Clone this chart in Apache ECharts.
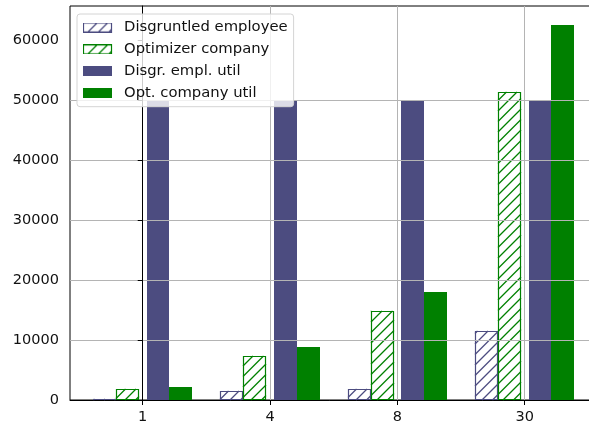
<!DOCTYPE html>
<html>
<head>
<meta charset="utf-8">
<script src="https://cdn.jsdelivr.net/npm/echarts@6/dist/echarts.min.js"></script>
<style>
  html, body { margin: 0; padding: 0; background: #fff; }
  #chart { width: 589px; height: 425px; }
</style>
</head>
<body>
<div id="chart"></div>
<script>
// Group labels along the x axis
const categories = ['1', '4', '8', '30'];

// Series values per group
const disgruntledEmployee = [200, 1500, 1800, 11500];
const optimizerCompany = [1800, 7400, 14800, 51300];
const disgrEmplUtil = [50000, 50000, 50000, 50000];
const optCompanyUtil = [2200, 8800, 18000, 62500];

// Value axis tick labels
const yTicks = [0, 10000, 20000, 30000, 40000, 50000, 60000];

const FONT = 'DejaVu Sans';
const BLUE = '#4c4c80';
const GREEN = '#008000';
const GRID_COLOR = '#b4b4b4';

// Bar geometry in x-axis units (groups sit at 0, 1, 2, 3)
const BAR_W = 0.18;
const MID_GAP = 0.03;
const HATCH_STEP = 10.5;
const HATCH_LW = 1.3;

const seriesSpec = [
  { name: 'Disgruntled employee', values: disgruntledEmployee, color: BLUE, hatched: true, offset: -(MID_GAP + BAR_W * 1.5) },
  { name: 'Optimizer company', values: optimizerCompany, color: GREEN, hatched: true, offset: -(MID_GAP + BAR_W * 0.5) },
  { name: 'Disgr. empl. util', values: disgrEmplUtil, color: BLUE, hatched: false, offset: MID_GAP + BAR_W * 0.5 },
  { name: 'Opt. company util', values: optCompanyUtil, color: GREEN, hatched: false, offset: MID_GAP + BAR_W * 1.5 }
];

// Diagonal "//" hatch segments clipped to a rectangle
function hatchSegments(x0, y0, x1, y1, step) {
  const segs = [];
  const cStart = Math.ceil((x0 + y0) / step) * step;
  for (let c = cStart; c <= x1 + y1; c += step) {
    const xa = Math.max(x0, c - y1);
    const xb = Math.min(x1, c - y0);
    if (xb - xa > 0.01) segs.push([xa, c - xa, xb, c - xb]);
  }
  return segs;
}

function makeRender(spec) {
  return function (params, api) {
    const idx = api.value(0);
    const v = api.value(1);
    const pA = api.coord([idx + spec.offset - BAR_W / 2, 0]);
    const pB = api.coord([idx + spec.offset + BAR_W / 2, v]);
    const x0 = Math.round(pA[0]);
    const x1 = Math.round(pB[0]);
    const yb = Math.round(pA[1]);
    const yt = Math.round(pB[1]);
    if (!spec.hatched) {
      return {
        type: 'rect',
        shape: { x: x0, y: yt, width: x1 - x0, height: yb - yt },
        style: { fill: spec.color }
      };
    }
    const children = hatchSegments(x0, yt, x1, yb, HATCH_STEP).map(function (s) {
      return {
        type: 'line',
        shape: { x1: s[0], y1: s[1], x2: s[2], y2: s[3] },
        style: { stroke: spec.color, lineWidth: HATCH_LW }
      };
    });
    children.push({
      type: 'rect',
      shape: { x: x0 + 0.5, y: yt + 0.5, width: x1 - x0 - 1, height: yb - yt - 1 },
      style: { fill: 'none', stroke: spec.color, lineWidth: 1.2 }
    });
    return { type: 'group', children: children };
  };
}

// Legend swatches: hatched outline or solid patch, with room before the text
function legendIcon(spec) {
  const cv = document.createElement('canvas');
  cv.width = 36; cv.height = 10;
  const ctx = cv.getContext('2d');
  if (spec.hatched) {
    ctx.save();
    ctx.beginPath();
    ctx.rect(0, 0, 29, 10);
    ctx.clip();
    ctx.strokeStyle = spec.color;
    ctx.lineWidth = HATCH_LW;
    hatchSegments(0, 0, 29, 10, HATCH_STEP).forEach(function (s) {
      ctx.beginPath();
      ctx.moveTo(s[0] + 4, s[1]);
      ctx.lineTo(s[2] + 4, s[3]);
      ctx.stroke();
    });
    ctx.restore();
    ctx.strokeStyle = spec.color;
    ctx.lineWidth = 1.2;
    ctx.strokeRect(0.5, 0.5, 28, 9);
  } else {
    ctx.fillStyle = spec.color;
    ctx.fillRect(0, 0, 29, 10);
  }
  return 'image://' + cv.toDataURL('image/png');
}

const chart = echarts.init(document.getElementById('chart'), null, { renderer: 'canvas' });

const series = seriesSpec.map(function (spec) {
  return {
    name: spec.name,
    type: 'custom',
    z: 1,
    itemStyle: { color: spec.color },
    renderItem: makeRender(spec),
    encode: { x: 0, y: 1 },
    data: spec.values.map(function (v, i) { return [i, v]; })
  };
});

// Vertical grid lines at each group, drawn over the bars
series.push({
  name: 'vgrid',
  type: 'line',
  z: 6,
  data: [],
  silent: true,
  markLine: {
    silent: true,
    symbol: ['none', 'none'],
    label: { show: false },
    lineStyle: { color: GRID_COLOR, width: 1, type: 'solid' },
    emphasis: { disabled: true },
    data: categories.map(function (c, i) { return { xAxis: i }; })
  }
});

const option = {
  animation: false,
  backgroundColor: '#ffffff',
  textStyle: { fontFamily: FONT },
  grid: {
    left: 70, top: 6, width: 527.4, height: 394,
    outerBoundsMode: 'none',
    containLabel: false,
    show: true, borderColor: '#000', borderWidth: 1, backgroundColor: 'transparent'
  },
  legend: {
    orient: 'vertical',
    left: 77, top: 14,
    padding: [6, 6, 6, 6],
    itemWidth: 36, itemHeight: 10,
    itemGap: 6.9,
    backgroundColor: 'rgba(255,255,255,0.8)',
    borderColor: '#d4d4d4', borderWidth: 1, borderRadius: 3,
    z: 20,
    selectedMode: false,
    textStyle: { fontFamily: FONT, fontSize: 14.8, color: '#111', lineHeight: 14 },
    data: seriesSpec.map(function (spec) {
      return { name: spec.name, icon: legendIcon(spec) };
    })
  },
  xAxis: {
    type: 'value',
    min: -0.571, max: 3.571,
    axisLine: { show: true, onZero: false, lineStyle: { color: '#000', width: 1 } },
    axisTick: { show: true, length: 5, customValues: [0, 1, 2, 3], lineStyle: { color: '#000' } },
    axisLabel: {
      customValues: [0, 1, 2, 3],
      formatter: function (v) { return categories[Math.round(v)]; },
      fontFamily: FONT, fontSize: 14.5, color: '#111', margin: 10
    },
    splitLine: { show: false }
  },
  yAxis: {
    type: 'value',
    min: 0, max: 65625,
    interval: 10000,
    z: 5,
    axisLine: { show: true, lineStyle: { color: '#000', width: 1 } },
    axisTick: { show: true, length: 5, customValues: yTicks, lineStyle: { color: '#000' } },
    axisLabel: {
      customValues: yTicks,
      formatter: function (v) { return String(v); },
      fontFamily: FONT, fontSize: 14.5, color: '#111', margin: 11
    },
    splitLine: { show: true, showMinLine: false, showMaxLine: false, lineStyle: { color: GRID_COLOR, width: 1 } }
  },
  series: series
};

chart.setOption(option);
</script>
</body>
</html>
